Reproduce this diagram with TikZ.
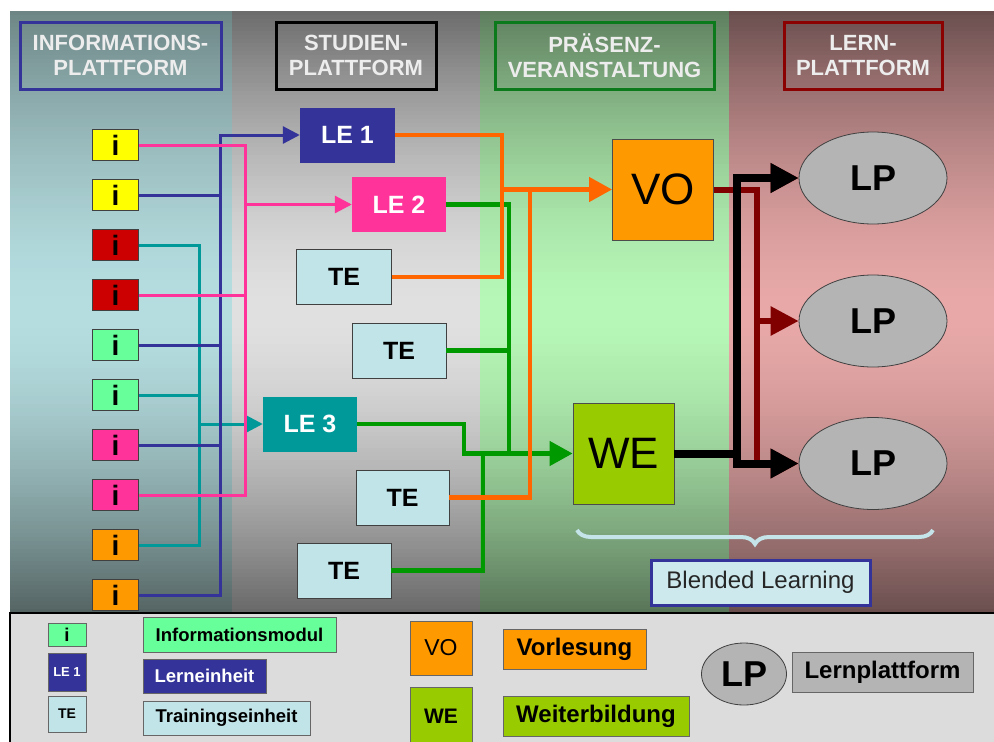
\documentclass[tikz,border=0pt]{standalone}
\usepackage{fontspec}
\setmainfont{Liberation Sans}
\usetikzlibrary{positioning,arrows.meta,shapes.geometric,decorations.pathreplacing}

\definecolor{iyel}{HTML}{FFFF00}
\definecolor{ired}{HTML}{CC0000}
\definecolor{igrn}{HTML}{66FF99}
\definecolor{ipnk}{HTML}{FF3399}
\definecolor{iorg}{HTML}{FF9900}
\definecolor{leblue}{HTML}{333399}
\definecolor{leteal}{HTML}{009999}
\definecolor{tebg}{HTML}{C0E4E8}
\definecolor{wegrn}{HTML}{99CC00}
\definecolor{lpgray}{HTML}{B4B4B4}
\definecolor{lnorg}{HTML}{FF6600}
\definecolor{lngrn}{HTML}{009900}
\definecolor{lnred}{HTML}{800000}
\definecolor{legbg}{HTML}{DCDCDC}
\definecolor{hdgrn}{HTML}{0A7A1A}
\definecolor{hdred}{HTML}{8B0000}
\definecolor{brc}{HTML}{C4E4EA}
% column backgrounds: top, middle, bottom
\definecolor{infoT}{HTML}{6D8585}
\definecolor{infoM}{HTML}{B5DDE0}
\definecolor{infoB}{HTML}{546463}
\definecolor{studT}{HTML}{6C6C6C}
\definecolor{studM}{HTML}{E0E0E0}
\definecolor{studB}{HTML}{686868}
\definecolor{praeT}{HTML}{5E7E5E}
\definecolor{praeM}{HTML}{B6F6B6}
\definecolor{praeB}{HTML}{587458}
\definecolor{lernT}{HTML}{6A4E4E}
\definecolor{lernM}{HTML}{E8A8A8}
\definecolor{lernB}{HTML}{6A4E4E}

\newcommand\fsz[2]{\fontsize{#1}{#2}\selectfont}

\begin{document}
\begin{tikzpicture}[x=1pt,y=-1pt,
  hdr/.style={draw=#1,line width=3pt,text=white!93!black,font=\bfseries\fsz{22}{25},
    align=center,inner sep=0pt,minimum height=67pt},
  imod/.style={draw=black!75,line width=0.8pt,minimum width=46pt,minimum height=31pt,
    inner sep=0pt,font=\bfseries\fsz{28}{28}},
  unit/.style={minimum width=95pt,minimum height=55pt,inner sep=0pt,font=\bfseries\fsz{25}{25}},
  le/.style={unit,fill=#1,text=white},
  te/.style={unit,fill=tebg,draw=black!75,line width=0.8pt},
  big/.style={draw=black!70,line width=0.8pt,minimum size=101pt,inner sep=0pt,font=\fsz{44}{44}},
  lp/.style={ellipse,draw=black!75,line width=0.8pt,fill=lpgray,minimum width=148pt,
    minimum height=92pt,inner sep=0pt,font=\bfseries\fsz{36}{36}},
  leg/.style={draw=black!60,line width=0.8pt,inner sep=0pt,font=\bfseries\fsz{18.5}{20}},
  bline/.style={line width=3pt,leblue},
  pline/.style={line width=3pt,ipnk},
  tline/.style={line width=3pt,leteal},
  oline/.style={line width=4.5pt,lnorg},
  gline/.style={line width=4.5pt,lngrn},
  rline/.style={line width=6pt,lnred},
  kline/.style={line width=8pt,black},
  tipS/.style={-{Triangle[length=17pt,width=17pt]}},
  tipM/.style={-{Triangle[length=23pt,width=24pt]}},
  tipL/.style={-{Triangle[length=28pt,width=28pt]}}]
\useasboundingbox (0,0) rectangle (994,742);

% background columns, light in the middle
\foreach \xa/\xb/\col in {10/232/info,232/480/stud,480/729/prae,729/994/lern}{
  \foreach \k in {0,...,149}{
    \pgfmathtruncatemacro\p{100*pow(abs(\k-74.5)/74.5,1.6)}
    \pgfmathsetmacro\ya{11+\k*4.0133}
    \ifnum\k<75 \colorlet{strip}{\col T!\p!\col M}\else\colorlet{strip}{\col B!\p!\col M}\fi
    \fill[strip] (\xa,\ya) rectangle (\xb,\ya+4.6);
  }
}
\fill[legbg] (10,613) rectangle (994,742);
\draw[line width=1.2pt] (10,742) -- (10,613) -- (994,613);

% headers
\node[hdr=leblue,minimum width=201pt] (hInfo) at (120.5,55.5) {INFORMATIONS-\\PLATTFORM};
\node[hdr=black,minimum width=160pt] (hStud) at (356,55.5) {STUDIEN-\\PLATTFORM};
\node[hdr=hdgrn,minimum width=219pt] (hPraes) at (604.5,55.5) {PRÄSENZ-\\VERANSTALTUNG};
\node[hdr=hdred,minimum width=158pt] (hLern) at (863,55.5) {LERN-\\PLATTFORM};

% information modules
\foreach \c [count=\n] in {iyel,iyel,ired,ired,igrn,igrn,ipnk,ipnk,iorg,iorg}
  \node[imod,fill=\c] (i\n) at (115.5,95+50*\n) {i};

% study units
\node[le=leblue] (LE1) at (347.5,135) {LE 1};
\node[le=ipnk,minimum width=94pt] (LE2) at (399,204.5) {LE 2};
\node[te] (TE1) at (344,277) {TE};
\node[te,minimum width=94pt] (TE2) at (399,350.5) {TE};
\node[le=leteal,minimum width=94pt] (LE3) at (310,424) {LE 3};
\node[te,minimum width=93pt] (TE3) at (402.5,497.5) {TE};
\node[te,minimum width=94pt] (TE4) at (344,570.5) {TE};

\node[big,fill=iorg] (VO) at (663,189.5) {VO};
\node[big,fill=wegrn] (WE) at (623.5,453.5) {WE};

\node[lp] (LP1) at (873,178) {LP};
\node[lp] (LP2) at (873,321) {LP};
\node[lp] (LP3) at (873,463.5) {LP};

% junctions
\coordinate (bT) at (220,135);
\coordinate (pT) at (245,145);
\coordinate (tT) at (199,245);
\coordinate (o1) at (502,189.5);
\coordinate (o2) at (530,189.5);
\coordinate (g1) at (509,453.5);
\coordinate (g2) at (464,453.5);
\coordinate (g3) at (483,453.5);
\coordinate (r1) at (757,463.5);
\coordinate (k1) at (737,463.5);

% information platform -> study platform
\draw[tline] (i9.east) -| (tT) -- (i3.east);
\draw[tline] (i6.east) -- (i6.east -| tT);
\draw[tline,tipS] (tT |- LE3.west) -- (LE3.west);
\draw[bline,tipS] (i10.east) -| (bT) -- (LE1.west);
\foreach \n in {2,5,7} \draw[bline] (i\n.east) -- (i\n.east -| bT);
\draw[pline] (i8.east) -| (pT) -- (i1.east);
\draw[pline] (i4.east) -- (i4.east -| pT);
\draw[pline,tipS] (pT |- LE2.west) -- (LE2.west);

% study platform -> presence
\draw[gline] (LE2.east) -| (g1);
\draw[gline] (TE2.east) -- (TE2.east -| g1);
\draw[gline] (TE4.east) -| (g3);
\draw[gline,tipM] (LE3.east) -| (g2) -- (WE.west);
\draw[oline] (LE1.east) -| (o1 |- TE1.east) -- (TE1.east);
\draw[oline] (TE3.east) -| (o2);
\draw[oline,tipM] (o1) -- (VO.west);

% presence -> learning platform
\draw[rline] (VO.east) -| (r1);
\foreach \n in {1,2,3} \draw[rline,tipL] (r1 |- LP\n.west) -- (LP\n.west);
\draw[kline,tipL] (WE.east) -| (k1) -- (LP3.west);
\draw[kline,tipL] (k1) |- (LP1.west);

% blended learning
\draw[brc,line width=4pt,decorate,decoration={brace,mirror,amplitude=14pt}] (577,530) -- (933,530);
\node[draw=leblue,line width=3pt,fill=tebg!80!white,minimum width=219pt,minimum height=45pt,
  inner sep=0pt,text=black!85,font=\fsz{24}{24}] (BL) at (760.5,582.5) {Blended Learning};

% legend
\node[leg,fill=igrn,minimum width=38pt,minimum height=23pt] (lgI) at (67,634.5) {i};
\node[leg,fill=leblue,text=white,minimum width=38pt,minimum height=38pt,font=\bfseries\fsz{13}{13}] (lgLE) at (67,672) {LE 1};
\node[leg,fill=tebg,minimum width=38pt,minimum height=36pt,font=\bfseries\fsz{14}{14}] (lgTE) at (67,714) {TE};
\node[leg,fill=igrn,minimum width=193pt,minimum height=35pt] (lgInfo) at (239.5,634.5) {Informationsmodul};
\node[leg,fill=leblue,text=white,minimum width=123pt,minimum height=34pt] (lgLern) at (204.5,676) {Lerneinheit};
\node[leg,fill=tebg,minimum width=167pt,minimum height=34pt] (lgTrain) at (226.5,718) {Trainingseinheit};
\node[leg,fill=iorg,minimum width=62pt,minimum height=54pt,font=\fsz{23}{23}] (lgVO) at (441,648) {VO};
\node[leg,fill=wegrn,minimum width=62pt,minimum height=59pt,font=\bfseries\fsz{21}{21}] (lgWE) at (441,716.5) {WE};
\node[leg,fill=iorg,minimum width=143pt,minimum height=40pt,font=\bfseries\fsz{24}{24}] (lgVorl) at (574.5,649) {Vorlesung};
\node[leg,fill=wegrn,minimum width=186pt,minimum height=40pt,font=\bfseries\fsz{24}{24}] (lgWeit) at (596,716) {Weiterbildung};
\node[lp,minimum width=85pt,minimum height=62pt] (lgLP) at (744,674) {LP};
\node[leg,fill=lpgray,minimum width=181pt,minimum height=40pt,font=\bfseries\fsz{24}{24}] (lgLernpl) at (882.5,672) {Lernplattform};
\end{tikzpicture}
\end{document}
